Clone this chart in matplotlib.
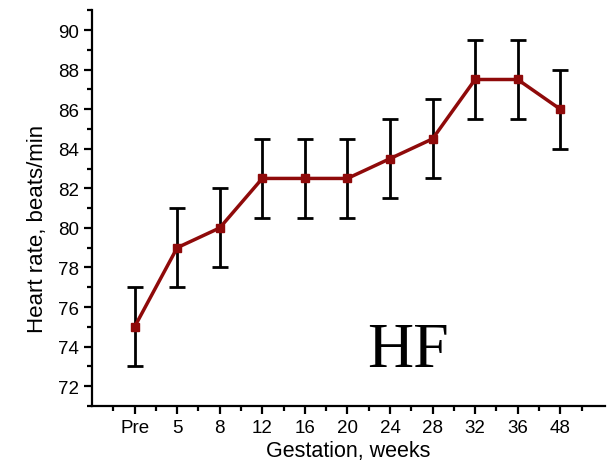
import matplotlib
matplotlib.use("Agg")
import matplotlib.pyplot as plt
from matplotlib.ticker import MultipleLocator, FixedLocator

# data
weeks = ["Pre", "5", "8", "12", "16", "20", "24", "28", "32", "36", "48"]
heart_rate = [75, 79, 80, 82.5, 82.5, 82.5, 83.5, 84.5, 87.5, 87.5, 86]
err = [2, 2, 2, 2, 2, 2, 2, 2, 2, 2, 2]

plt.rcParams['font.family'] = ['Liberation Sans', 'DejaVu Sans']

fig = plt.figure(figsize=(6.07, 4.64), dpi=100)
ax = fig.add_axes([0.1516, 0.1228, 0.845, 0.853])

x = list(range(1, len(weeks) + 1))
ax.errorbar(x, heart_rate, yerr=err, fmt='none', ecolor='black',
            elinewidth=2, capsize=5.5, capthick=2, zorder=2)
ax.plot(x, heart_rate, color='#8f0a0a', lw=2.5, marker='s', ms=5.8, zorder=3)

ax.set_xlim(0, 12.05)
ax.set_ylim(71, 91)
ax.set_xticks(x)
ax.set_xticklabels(weeks)
ax.xaxis.set_minor_locator(FixedLocator([i + 0.5 for i in range(0, 12)]))
ax.yaxis.set_major_locator(MultipleLocator(2))
ax.yaxis.set_minor_locator(MultipleLocator(1))
ax.set_yticks(range(72, 91, 2))

for s in ['top', 'right']:
    ax.spines[s].set_visible(False)
for s in ['left', 'bottom']:
    ax.spines[s].set_linewidth(1.6)

ax.tick_params(which='major', direction='out', length=6, width=1.6, labelsize=13.5)
ax.tick_params(which='minor', direction='out', length=3.5, width=1.6)

ax.set_xlabel("Gestation, weeks", fontsize=15.5, labelpad=3)
ax.set_ylabel("Heart rate, beats/min", fontsize=16)
ax.yaxis.set_label_coords(-0.086, 0.45)

ax.text(7.42, 73.0, "HF", fontsize=46, family=['Liberation Serif', 'DejaVu Serif'],
        ha='center', va='baseline')

fig.savefig("out.png", dpi=100)
